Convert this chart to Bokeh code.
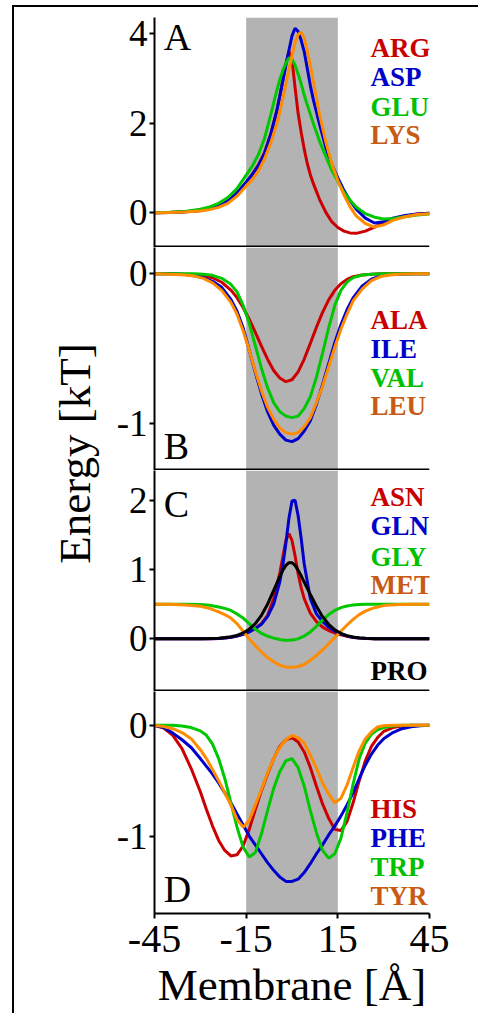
import math
from bokeh.plotting import figure
from bokeh.layouts import column, row
from bokeh.models import Range1d, FixedTicker, BoxAnnotation, Span, Label, Div, Spacer
from bokeh.embed import file_html
from bokeh.resources import INLINE

# ---------------- data ----------------
X_LIMITS = (-45, 45)
X_TICKS = [-45, -15, 15, 45]
X_TICK_LABELS = {-45: "-45", -15: "-15", 15: "15", 45: "45"}
MEMBRANE = (-15, 15)

# Panel A (charged)
A_x = [-45, -40, -35, -30, -27, -24, -21, -18, -15, -13, -11, -9, -7, -5, -4, -3, -2, -1, 0, 1,
       2, 3, 4, 5, 6, 7, 9, 11, 13, 15, 17, 19, 21, 24, 27, 30, 33, 37, 41, 45]
ARG = [0, 0.005, 0.02, 0.05, 0.09, 0.15, 0.26, 0.44, 0.67, 0.86, 1.07, 1.35, 1.75, 2.27, 2.6, 2.96, 3.33, 3.6, 3.42, 2.8,
       2.22, 1.8, 1.42, 1.1, 0.85, 0.65, 0.3, 0.02, -0.2, -0.33, -0.41, -0.45, -0.46, -0.41, -0.32, -0.22, -0.14, -0.07, -0.03, -0.01]
ASP = [0, 0.005, 0.02, 0.05, 0.09, 0.15, 0.26, 0.44, 0.69, 0.85, 1.05, 1.32, 1.74, 2.27, 2.6, 2.95, 3.3, 3.63, 3.95, 4.12,
       4.05, 3.85, 3.6, 3.22, 2.84, 2.52, 1.98, 1.47, 1.08, 0.78, 0.5, 0.27, 0.08, -0.12, -0.23, -0.2, -0.12, -0.06, -0.03, -0.01]
GLU = [0, 0.01, 0.03, 0.08, 0.13, 0.21, 0.34, 0.54, 0.84, 1.04, 1.3, 1.66, 2.18, 2.72, 2.97, 3.18, 3.34, 3.46, 3.43, 3.3,
       3.1, 2.88, 2.63, 2.41, 2.2, 1.99, 1.6, 1.27, 0.95, 0.7, 0.46, 0.28, 0.13, -0.02, -0.1, -0.14, -0.13, -0.09, -0.05, -0.03]
LYS = [0, 0.005, 0.015, 0.04, 0.07, 0.12, 0.21, 0.37, 0.6, 0.74, 0.93, 1.2, 1.55, 1.98, 2.25, 2.55, 2.87, 3.2, 3.5, 3.8,
       3.98, 4.03, 3.9, 3.62, 3.28, 2.93, 2.2, 1.6, 1.1, 0.72, 0.4, 0.13, -0.07, -0.24, -0.32, -0.27, -0.17, -0.09, -0.04, -0.02]

# Panel B (hydrophobic)
B_x = [-45, -40, -35, -32, -29, -26, -23, -20, -18, -16, -14, -12, -10, -8, -6, -4, -2, 0,
       2, 4, 6, 8, 10, 12, 14, 16, 18, 20, 23, 26, 29, 32, 35, 40, 45]
ALA = [0, 0, -0.002, -0.004, -0.011, -0.026, -0.056, -0.108, -0.159, -0.225, -0.303, -0.391, -0.483, -0.57, -0.645, -0.695, -0.72, -0.707,
       -0.654, -0.569, -0.464, -0.356, -0.257, -0.174, -0.11, -0.066, -0.037, -0.019, -0.007, -0.002, 0, 0, 0, 0, 0]
ILE = [0, 0, -0.005, -0.012, -0.025, -0.05, -0.09, -0.17, -0.25, -0.36, -0.51, -0.66, -0.8, -0.92, -1.01, -1.07, -1.11, -1.12,
       -1.1, -1.05, -0.98, -0.87, -0.74, -0.6, -0.46, -0.34, -0.24, -0.16, -0.08, -0.035, -0.014, -0.005, -0.002, 0, 0]
VAL = [0, 0, 0, 0, -0.003, -0.01, -0.03, -0.07, -0.12, -0.21, -0.33, -0.48, -0.63, -0.76, -0.86, -0.92, -0.95, -0.96,
       -0.95, -0.9, -0.82, -0.69, -0.53, -0.36, -0.21, -0.11, -0.055, -0.025, -0.008, -0.002, 0, 0, 0, 0, 0]
LEU = [0, -0.002, -0.007, -0.015, -0.03, -0.06, -0.11, -0.19, -0.27, -0.38, -0.51, -0.65, -0.78, -0.89, -0.97, -1.03, -1.06, -1.07,
       -1.06, -1.02, -0.96, -0.86, -0.75, -0.62, -0.49, -0.37, -0.27, -0.18, -0.1, -0.045, -0.018, -0.007, -0.002, 0, 0]

# Panel C (polar / special)
C_x = [-45, -40, -35, -30, -27, -24, -22, -20, -18, -16, -14, -12, -10, -8, -6, -4, -3, -2, -1, 0,
       1, 2, 3, 4, 6, 8, 10, 12, 14, 16, 18, 20, 22, 24, 27, 30, 35, 40, 45]
ASN = [0, 0, 0, 0, 0.002, 0.006, 0.012, 0.022, 0.04, 0.065, 0.1, 0.15, 0.22, 0.34, 0.58, 0.95, 1.18, 1.42, 1.52, 1.42,
       1.2, 0.94, 0.74, 0.58, 0.37, 0.25, 0.17, 0.12, 0.085, 0.058, 0.036, 0.02, 0.011, 0.006, 0.002, 0, 0, 0, 0]
GLN = [0, 0, 0, 0, 0.002, 0.006, 0.012, 0.022, 0.04, 0.066, 0.1, 0.15, 0.21, 0.32, 0.5, 0.82, 1.06, 1.38, 1.74, 1.99,
       2.0, 1.78, 1.45, 1.08, 0.58, 0.36, 0.25, 0.17, 0.11, 0.07, 0.042, 0.024, 0.013, 0.007, 0.003, 0.001, 0, 0, 0]
GLY = [0.5, 0.5, 0.5, 0.495, 0.485, 0.46, 0.44, 0.41, 0.36, 0.3, 0.22, 0.14, 0.08, 0.04, 0.01, -0.01, -0.015, -0.02, -0.02, -0.015,
       -0.01, 0.0, 0.02, 0.04, 0.1, 0.18, 0.27, 0.35, 0.41, 0.45, 0.475, 0.49, 0.495, 0.5, 0.5, 0.5, 0.5, 0.5, 0.5]
MET = [0.5, 0.5, 0.49, 0.47, 0.44, 0.39, 0.35, 0.3, 0.22, 0.11, 0.0, -0.1, -0.19, -0.27, -0.33, -0.38, -0.395, -0.405, -0.41, -0.41,
       -0.405, -0.4, -0.385, -0.37, -0.31, -0.24, -0.16, -0.07, 0.02, 0.11, 0.2, 0.28, 0.35, 0.4, 0.45, 0.48, 0.495, 0.5, 0.5]
PRO = [0, 0, 0, 0.001, 0.004, 0.01, 0.018, 0.03, 0.05, 0.085, 0.14, 0.22, 0.34, 0.5, 0.7, 0.9, 0.99, 1.06, 1.1, 1.1,
       1.06, 0.99, 0.91, 0.82, 0.64, 0.47, 0.32, 0.21, 0.13, 0.08, 0.046, 0.026, 0.014, 0.007, 0.003, 0.001, 0, 0, 0]

# Panel D (aromatic)
D_x = [-45, -42, -39, -36, -33, -30, -28, -26, -24, -22, -20, -18, -16, -14, -12, -10, -8, -6, -4, -2, 0,
       2, 4, 6, 8, 10, 12, 14, 16, 18, 20, 22, 24, 26, 28, 30, 33, 36, 39, 42, 45]
HIS = [0, -0.025, -0.09, -0.21, -0.39, -0.6, -0.76, -0.91, -1.04, -1.13, -1.18, -1.17, -1.09, -0.94, -0.76, -0.59, -0.44, -0.3, -0.19, -0.13, -0.11,
       -0.15, -0.24, -0.38, -0.55, -0.71, -0.84, -0.94, -0.95, -0.87, -0.7, -0.5, -0.32, -0.19, -0.11, -0.055, -0.02, -0.005, 0, 0, 0]
PHE = [0, -0.02, -0.07, -0.13, -0.2, -0.3, -0.37, -0.44, -0.52, -0.61, -0.7, -0.8, -0.9, -1.0, -1.08, -1.16, -1.24, -1.31, -1.37, -1.41, -1.41,
       -1.39, -1.33, -1.25, -1.16, -1.08, -0.99, -0.91, -0.82, -0.72, -0.61, -0.48, -0.36, -0.26, -0.18, -0.12, -0.065, -0.03, -0.012, -0.004, 0]
TRP = [0, 0, 0, -0.005, -0.02, -0.05, -0.09, -0.17, -0.3, -0.48, -0.7, -0.92, -1.1, -1.19, -1.15, -0.98, -0.77, -0.57, -0.42, -0.32, -0.3,
       -0.38, -0.55, -0.77, -0.97, -1.13, -1.2, -1.16, -1.02, -0.79, -0.53, -0.3, -0.16, -0.08, -0.04, -0.02, -0.005, 0, 0, 0, 0]
TYR = [0, -0.01, -0.03, -0.065, -0.12, -0.22, -0.3, -0.4, -0.5, -0.61, -0.72, -0.85, -0.92, -0.86, -0.72, -0.58, -0.43, -0.3, -0.2, -0.13, -0.09,
       -0.11, -0.16, -0.27, -0.385, -0.52, -0.62, -0.7, -0.66, -0.54, -0.38, -0.23, -0.12, -0.06, -0.015, -0.003, 0, 0, 0, 0, 0]

A_TICKS = [0, 2, 4]
B_TICKS = [-1, 0]
C_TICKS = [0, 1, 2]
D_TICKS = [-1, 0]
Y_TICK_LABELS = {-1: "-1", 0: "0", 1: "1", 2: "2", 4: "4"}

# ---------------- style ----------------
FONT = "Liberation Serif"
RED, BLUE, GREEN, ORANGE, BLACK = "#cc0000", "#0000cc", "#00c800", "#ff8c00", "#000000"
T_RED, T_BLUE, T_GREEN, T_ORANGE = "#c80000", "#0000c8", "#00c000", "#c85a14"
BAND_COLOR = "#b3b3b3"
YTICK_SIZE = "37px"
XTICK_SIZE = "40px"
LETTER_SIZE = "38px"
LEGEND_SIZE = "27px"
TITLE_SIZE = "45px"
LEGEND_X = 25.7
LETTER_X = -42.0

FRAME_W = 275
BORDER_L, BORDER_R = 50, 49


def make_panel(xs, series, y_lo, y_hi, ticks, frame_h, top, bottom, letter, letter_y,
               sep_bottom, show_x=False):
    p = figure(width=BORDER_L + FRAME_W + BORDER_R, height=top + frame_h + bottom,
               x_range=Range1d(*X_LIMITS), y_range=Range1d(y_lo, y_hi),
               output_backend="svg", toolbar_location=None, title=None,
               min_border_left=BORDER_L, min_border_right=BORDER_R,
               min_border_top=top, min_border_bottom=bottom,
               x_axis_location="below" if show_x else None, y_axis_location="left")
    p.outline_line_color = None
    p.xgrid.visible = False
    p.ygrid.visible = False
    p.background_fill_color = "white"
    p.border_fill_color = "white"

    ax = p.yaxis[0]
    ax.ticker = FixedTicker(ticks=ticks)
    ax.major_label_overrides = {t: Y_TICK_LABELS[t] for t in ticks}
    ax.major_tick_in = 0
    ax.major_tick_out = 5
    ax.minor_tick_in = 0
    ax.minor_tick_out = 0
    ax.axis_line_width = 2
    ax.axis_line_color = "black"
    ax.major_tick_line_width = 2
    ax.major_tick_line_color = "black"
    ax.major_label_text_font = FONT
    ax.major_label_text_font_size = YTICK_SIZE
    ax.major_label_text_color = "black"
    ax.major_label_standoff = 2

    if show_x:
        xa = p.xaxis[0]
        xa.ticker = FixedTicker(ticks=X_TICKS)
        xa.major_label_overrides = X_TICK_LABELS
        xa.major_tick_in = 0
        xa.major_tick_out = 5
        xa.minor_tick_in = 0
        xa.minor_tick_out = 0
        xa.axis_line_width = 2
        xa.axis_line_color = "black"
        xa.major_tick_line_width = 2
        xa.major_tick_line_color = "black"
        xa.major_label_text_font = FONT
        xa.major_label_text_font_size = XTICK_SIZE
        xa.major_label_text_color = "black"
        xa.major_label_standoff = 7
        xa.axis_label = "Membrane [Å]"
        xa.axis_label_text_font = FONT
        xa.axis_label_text_font_size = TITLE_SIZE
        xa.axis_label_text_font_style = "normal"
        xa.axis_label_text_color = "black"
        xa.axis_label_standoff = 5

    p.add_layout(BoxAnnotation(left=MEMBRANE[0], right=MEMBRANE[1], fill_color=BAND_COLOR,
                               fill_alpha=1.0, line_color=None, level="underlay"))
    if sep_bottom:
        one_px = (y_hi - y_lo) / frame_h
        p.add_layout(Span(location=y_lo + one_px, dimension="width", line_color="black", line_width=2))

    for name, ys, lc, tc, ly in series:
        p.line(xs, ys, line_color=lc, line_width=3)
    for name, ys, lc, tc, ly in series:
        p.add_layout(Label(x=LEGEND_X, y=ly, text=name, text_font=FONT, text_font_style="bold",
                           text_font_size=LEGEND_SIZE, text_color=tc,
                           text_align="left", text_baseline="alphabetic"))
    p.add_layout(Label(x=LETTER_X, y=letter_y, text=letter, text_font=FONT,
                       text_font_size=LETTER_SIZE, text_color="black",
                       text_align="left", text_baseline="alphabetic"))
    return p


H_A, H_B, H_C, H_D = 240, 223, 221, 222 + 125

pA = make_panel(A_x, [("ARG", ARG, RED, T_RED, 3.69), ("ASP", ASP, BLUE, T_BLUE, 3.04),
                      ("GLU", GLU, GREEN, T_GREEN, 2.37), ("LYS", LYS, ORANGE, T_ORANGE, 1.73)],
                -0.776, 4.36, A_TICKS, 230, 10, 0, "A", 3.92, True)
pB = make_panel(B_x, [("ALA", ALA, RED, T_RED, -0.31), ("ILE", ILE, BLUE, T_BLUE, -0.50),
                      ("VAL", VAL, GREEN, T_GREEN, -0.695), ("LEU", LEU, ORANGE, T_ORANGE, -0.885)],
                -1.313, 0.176, B_TICKS, 223, 0, 0, "B", -1.149, True)
pC = make_panel(C_x, [("ASN", ASN, RED, T_RED, 2.046), ("GLN", GLN, BLUE, T_BLUE, 1.626),
                      ("GLY", GLY, GREEN, T_GREEN, 1.186), ("MET", MET, ORANGE, T_ORANGE, 0.771),
                      ("PRO", PRO, BLACK, BLACK, -0.458)],
                -0.76, 2.43, C_TICKS, 221, 0, 0, "C", 1.94, True)
pD = make_panel(D_x, [("HIS", HIS, RED, T_RED, -0.754), ("PHE", PHE, BLUE, T_BLUE, -1.015),
                      ("TRP", TRP, GREEN, T_GREEN, -1.279), ("TYR", TYR, ORANGE, T_ORANGE, -1.541)],
                -1.70, 0.306, D_TICKS, 222, 0, 125, "D", -1.478, False, show_x=True)

TOTAL_H = H_A + H_B + H_C + H_D
TOP_Y = 7

# y-axis title in its own strip (data coordinates = page pixels)
lab = figure(width=90, height=TOTAL_H, x_range=Range1d(14, 104), y_range=Range1d(TOP_Y + TOTAL_H, TOP_Y),
             output_backend="svg", toolbar_location=None, title=None,
             min_border=0, x_axis_location=None, y_axis_location=None)
lab.outline_line_color = None
lab.xgrid.visible = False
lab.ygrid.visible = False
lab.add_layout(Label(x=74.5, y=453, text="Energy [kT]", text_font=FONT, text_font_size=TITLE_SIZE,
                     angle=math.pi / 2, text_align="center", text_baseline="middle", text_color="black"))

top_line = Div(text="", width=466, height=2, margin=0, styles={"background-color": "black"})
left_line = Div(text="", width=2, height=TOTAL_H, margin=0, styles={"background-color": "black"})

panels = column(pA, pB, pC, pD, spacing=0)
body = row(left_line, lab, panels, spacing=0)
inner = column(top_line, body, spacing=0)
root = column(Spacer(width=2, height=5), row(Spacer(width=12, height=2), inner, spacing=0), spacing=0)

open("out.html", "w").write(file_html(root, INLINE))
